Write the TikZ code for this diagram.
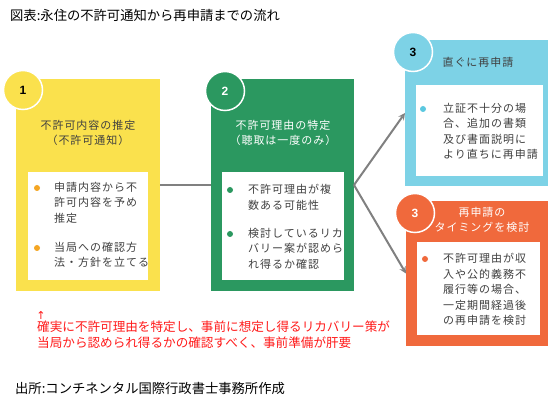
\documentclass[tikz,border=0pt]{standalone}
\usepackage{fontspec}
\setmainfont{Noto Sans CJK JP}
\newfontfamily\boxfont[LetterSpace=9]{Noto Sans CJK JP}
\newfontfamily\numfont{Liberation Sans}
\newfontfamily\symfont{DejaVu Sans}
\definecolor{yellowbox}{HTML}{FAE14D}
\definecolor{greenbox}{HTML}{2B9860}
\definecolor{bluebox}{HTML}{7DD2E6}
\definecolor{orangebox}{HTML}{F0693C}
\definecolor{dotamber}{HTML}{F5A623}
\definecolor{dotblue}{HTML}{5BC8E0}
\definecolor{textgray}{HTML}{404040}
\definecolor{linegray}{HTML}{808080}
\definecolor{notered}{HTML}{FF1A1A}
\begin{document}
\begin{tikzpicture}[
        x=1pt, y=-1pt,
        panel/.style={
            rectangle,
            inner sep=0pt,
            outer sep=0pt,
            anchor=north west
        },
        card/.style={
            panel,
            fill=white
        },
        badge/.style={
            circle,
            draw=white,
            line width=1.5pt,
            minimum size=39pt,
            inner sep=0pt,
            font=\numfont\bfseries\fontsize{12}{12}\selectfont
        },
        head/.style={
            align=center,
            inner sep=0pt,
            font=\boxfont\fontsize{11}{15}\selectfont
        },
        item/.style={
            align=left,
            anchor=north west,
            inner sep=0pt,
            text=textgray,
            font=\boxfont\fontsize{11}{15.5}\selectfont
        },
        dot/.style={
            circle,
            inner sep=0pt,
            minimum size=6pt
        },
        link/.style={
            draw=linegray,
            line width=2.2pt
        },
        ray/.style={
            ->,
            >=stealth,
            draw=linegray,
            line width=2pt
        }
    ]
        \useasboundingbox (0,0) rectangle (550,403);

        % --- Titre ---
        \node[anchor=west, inner sep=0pt, font=\fontsize{13.3}{13.3}\selectfont] (title) at (10,15)
            {図表:永住の不許可通知から再申請までの流れ};

        % --- 1. Estimation du contenu ---
        \node[panel, fill=yellowbox, minimum width=144pt, minimum height=212pt] (box1) at (16,79) {};
        \node[badge, fill=yellowbox, text=black] (badge1) at (23,90) {1};
        \node[head, text=textgray] (head1) at (88,133) {不許可内容の推定\\（不許可通知）};
        \node[card, minimum width=120pt, minimum height=108pt] (card1) at (28,172) {};
        \node[dot, fill=dotamber] (dot1a) at (37,188) {};
        \node[item] (item1a) at (54,182) {申請内容から不\\許可内容を予め\\推定};
        \node[dot, fill=dotamber] (dot1b) at (37,248) {};
        \node[item] (item1b) at (54,242) {当局への確認方\\法・方針を立てる};

        % --- 2. Identification du motif ---
        \node[panel, fill=greenbox, minimum width=143pt, minimum height=212pt] (box2) at (211,79) {};
        \node[badge, fill=greenbox, text=white] (badge2) at (225,91) {2};
        \node[head, text=white] (head2) at (283,133) {不許可理由の特定\\（聴取は一度のみ）};
        \node[card, minimum width=122pt, minimum height=108pt] (card2) at (222,172) {};
        \node[dot, fill=greenbox] (dot2a) at (230,190) {};
        \node[item] (item2a) at (248,184) {不許可理由が複\\数ある可能性};
        \node[dot, fill=greenbox] (dot2b) at (230,234) {};
        \node[item] (item2b) at (248,228) {検討しているリカ\\バリー案が認めら\\れ得るか確認};

        % --- 3. Nouvelle demande immédiate ---
        \node[panel, fill=bluebox, minimum width=143pt, minimum height=146pt] (box3a) at (405,40) {};
        \node[badge, fill=bluebox, text=black] (badge3a) at (413,52) {3};
        \node[head, text=textgray] (head3a) at (478,62) {直ぐに再申請};
        \node[card, minimum width=127pt, minimum height=91pt] (card3a) at (416,85) {};
        \node[dot, fill=dotblue] (dot3a) at (423,109) {};
        \node[item] (item3a) at (443,103) {立証不十分の場\\合、追加の書類\\及び書面説明に\\より直ちに再申請};

        % --- 3. Choix du moment ---
        \node[panel, fill=orangebox, minimum width=142pt, minimum height=145pt] (box3b) at (406,201) {};
        \node[badge, fill=orangebox, text=white] (badge3b) at (415,213) {3};
        \node[head, text=white] (head3b) at (482,220) {再申請の\\タイミングを検討};
        \node[card, minimum width=123pt, minimum height=93pt] (card3b) at (417,242) {};
        \node[dot, fill=orangebox] (dot3b) at (425,259) {};
        \node[item] (item3b) at (443,253) {不許可理由が収\\入や公的義務不\\履行等の場合、\\一定期間経過後\\の再申請を検討};

        % --- Liaisons ---
        \draw[link] (box1.east) -- (box2.west);
        \draw[ray] (box2.east) -- (box3a.west);
        \draw[ray] (box2.east) -- (box3b.west);

        % --- Remarque en rouge ---
        \node[anchor=center, inner sep=0pt, text=notered, font=\symfont\fontsize{11}{11}\selectfont] (mark) at (41,315) {↑};
        \node[item, text=notered, font=\fontsize{12.6}{15.5}\selectfont] (note) at (37,321)
            {確実に不許可理由を特定し、事前に想定し得るリカバリー策が\\当局から認められ得るかの確認すべく、事前準備が肝要};

        % --- Source ---
        \node[anchor=west, inner sep=0pt, font=\fontsize{13.3}{13.3}\selectfont] (source) at (15,388)
            {出所:コンチネンタル国際行政書士事務所作成};
\end{tikzpicture}
\end{document}
